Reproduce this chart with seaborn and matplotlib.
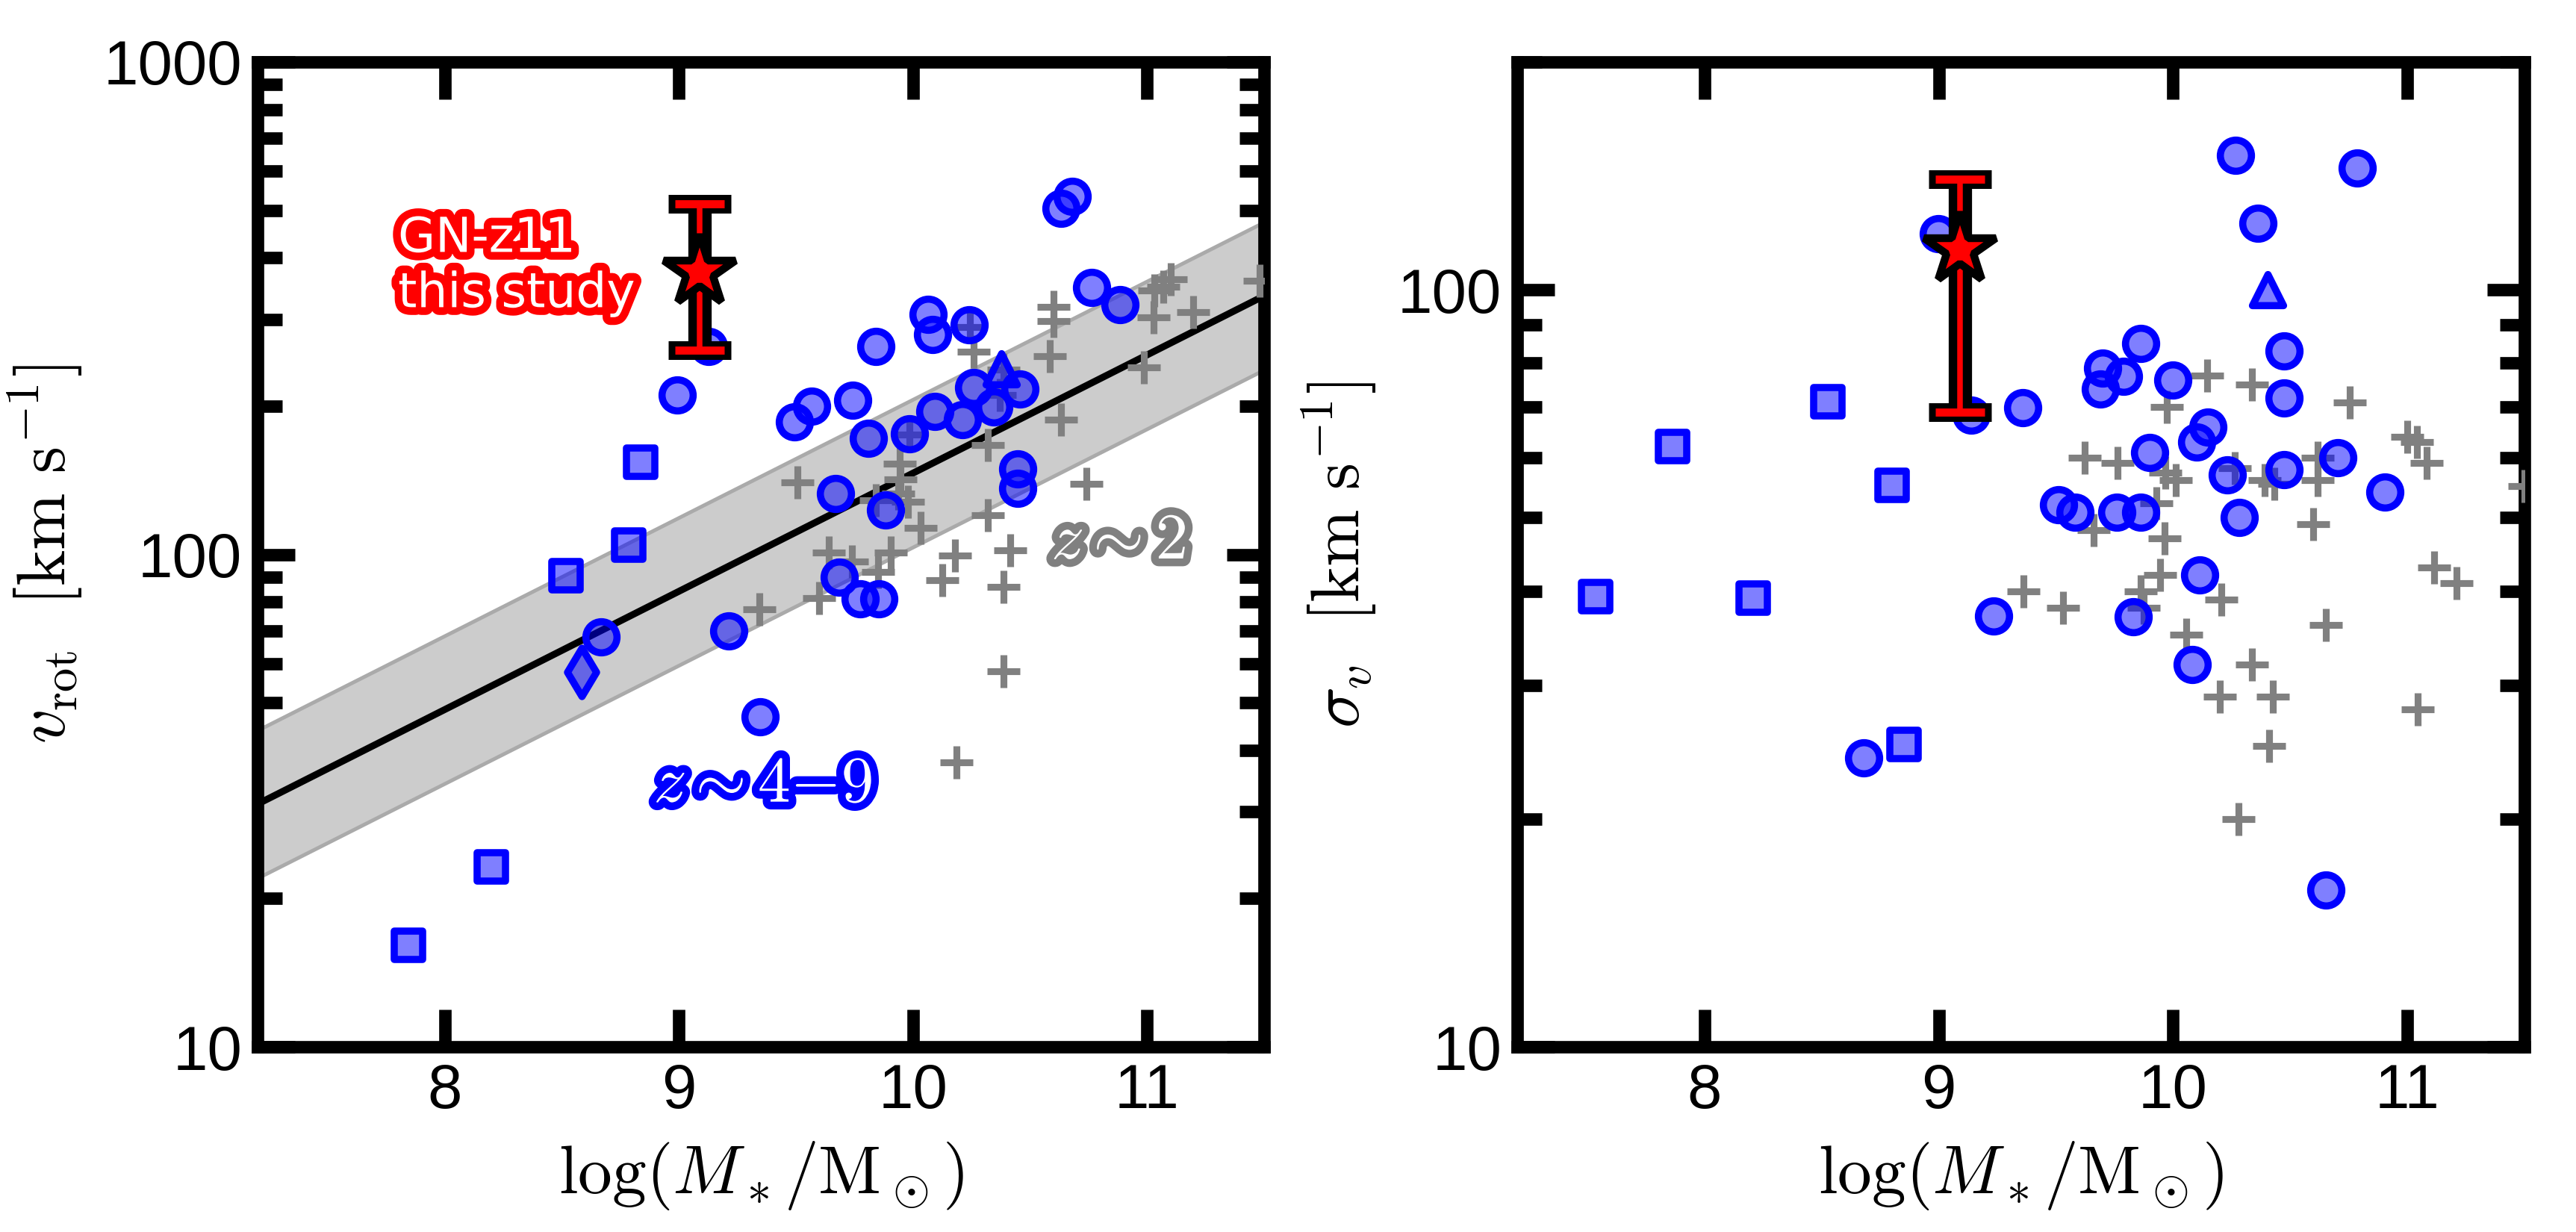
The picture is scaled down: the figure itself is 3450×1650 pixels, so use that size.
import numpy as np
import matplotlib
matplotlib.use("Agg")
import matplotlib.pyplot as plt
import matplotlib.patheffects as pe
from matplotlib.ticker import NullLocator, NullFormatter
import seaborn as sns

# === Data: left panel, rotation velocity ===
hiz_circ_logm = [8.667, 8.993, 9.128, 9.213, 9.348, 9.493, 9.567, 9.670, 9.684, 9.741,
                 9.773, 9.809, 9.840, 9.855, 9.883, 9.986, 10.064, 10.085, 10.092, 10.213,
                 10.241, 10.259, 10.344, 10.457, 10.447, 10.447, 10.631, 10.681, 10.762, 10.883]
hiz_circ_vrot = [68.1, 211, 264, 69.9, 46.8, 186, 200, 133, 89.9, 206,
                 81.3, 172, 264, 81.3, 123, 176, 307, 280, 195, 188,
                 293, 218, 199, 217, 149, 136, 504, 533, 349, 322]
hiz_sq_logm = [7.844, 8.20, 8.518, 8.787, 8.837]
hiz_sq_vrot = [16.1, 23.2, 90.6, 104.5, 154]
hiz_dia_logm = [8.585]
hiz_dia_vrot = [57.8]
hiz_tri_logm = [10.376]
hiz_tri_vrot = [238]

z2_logm_v = [10.60, 10.60, 10.258, 10.242, 10.584, 10.387, 10.371, 10.634, 10.321, 9.942,
             9.947, 9.937, 9.840, 9.979, 9.985, 10.033, 10.321, 10.741, 9.641, 9.738,
             9.904, 9.851, 10.178, 10.416, 10.124, 10.387, 9.599, 9.505, 9.344, 10.387,
             10.185, 11.197, 11.028, 10.988, 11.101, 11.069, 11.031, 11.48]
z2_vrot = [298, 318, 258, 290, 253, 237, 211, 188, 167, 153,
           142, 133, 129, 128, 175, 113, 120, 139, 101, 96.6,
           101, 92, 99.6, 102, 88.7, 85.8, 81.6, 140, 77.4, 58,
           37.8, 310, 303, 240, 362, 350, 344, 360]

# === Data: right panel, velocity dispersion ===
hiz_circ_logm_s = [9.359, 9.860, 9.700, 9.789, 9.689, 10.000, 10.472, 10.472, 10.150, 10.102,
                   9.901, 10.230, 10.472, 10.702, 10.903, 9.512, 9.582, 9.761, 9.860, 10.281,
                   10.112, 9.831, 10.081, 10.651, 8.678, 8.997, 9.138, 9.235, 10.266, 10.363,
                   10.785]
hiz_circ_sigma = [69.8, 84.9, 78.9, 76.9, 73.9, 76.0, 83.0, 72.0, 65.8, 62.9,
                  61.0, 56.9, 57.9, 60.0, 54.1, 52.0, 50.9, 50.9, 50.9, 50.0,
                  42.0, 37.0, 32.0, 16.1, 24.1, 118.7, 68.3, 37.1, 150.6, 122.5,
                  144.9]
hiz_sq_logm_s = [7.536, 7.862, 8.208, 8.526, 8.799, 8.851]
hiz_sq_sigma = [39.3, 62.1, 39.2, 71.1, 55.2, 25.1]
hiz_tri_logm_s = [10.405]
hiz_tri_sigma = [100]

z2_logm_s = [10.144, 10.338, 10.755, 9.974, 9.623, 9.763, 9.968, 10.011, 10.264, 10.392,
             10.431, 10.616, 10.616, 9.927, 9.662, 9.965, 10.599, 9.945, 9.362, 9.530,
             9.860, 9.875, 10.207, 10.651, 10.057, 10.335, 10.198, 10.427, 10.411, 10.278,
             11.0, 11.040, 11.081, 11.113, 11.209, 11.043, 11.5]
z2_sigma = [77.1, 75.0, 71.0, 70.0, 60.0, 59.0, 57.3, 56.1, 58.1, 56.1,
            55.4, 60.0, 56.1, 52.2, 48.1, 47.0, 49.0, 42.0, 40.0, 38.0,
            40.0, 38.0, 39.0, 36.1, 35.0, 32.0, 29.0, 29.0, 25.0, 20.0,
            64.0, 63.0, 59.0, 43.0, 41.0, 27.9, 55.1]

# === GN-z11 (this study) ===
gn_logm = 9.09
gn_vrot, gn_vrot_lo, gn_vrot_hi = 375, 260, 515
gn_sigma, gn_sigma_lo, gn_sigma_hi = 113, 69, 140

# z~2 Tully-Fisher fit: log v = a + b (logM - 10), scatter in dex
tf_a, tf_b, tf_scatter = 2.165, 0.24, 0.15

XLIM = (7.2, 11.5)

sns.set_style("ticks", {"axes.edgecolor": "black", "xtick.color": "black",
                        "ytick.color": "black", "text.color": "black",
                        "axes.labelcolor": "black"})
plt.rcParams["font.family"] = ["Liberation Sans", "DejaVu Sans"]
plt.rcParams["mathtext.fontset"] = "cm"

BLUE_FACE = (0, 0, 1, 0.5)


def draw_hiz(ax, x, y, marker, s):
    sns.scatterplot(x=x, y=y, marker=marker, s=s, facecolor=BLUE_FACE,
                    edgecolor="blue", linewidth=2.3, ax=ax, zorder=4)


def draw_z2(ax, x, y):
    sns.scatterplot(x=x, y=y, marker="+", s=110, color="gray",
                    linewidth=2.2, ax=ax, zorder=3)


def draw_gnz11(ax, y, lo, hi):
    yerr = [[y - lo], [hi - y]]
    ax.errorbar([gn_logm], [y], yerr=yerr, fmt="none", ecolor="black",
                elinewidth=7.5, capsize=10, capthick=6, zorder=6)
    ax.errorbar([gn_logm], [y], yerr=yerr, fmt="none", ecolor="red",
                elinewidth=1.8, capsize=8, capthick=2.6, zorder=7)
    ax.plot([gn_logm], [y], marker="*", ms=24, mfc="red", mec="black",
            mew=2.5, linestyle="none", zorder=8)


def style_axes(ax, yticks):
    ax.set_yscale("log")
    ax.set_xlim(*XLIM)
    ax.set_xticks([8, 9, 10, 11])
    ax.set_xticklabels(["8", "9", "10", "11"])
    ax.xaxis.set_minor_locator(NullLocator())
    ax.set_yticks(yticks)
    ax.set_yticklabels([str(t) for t in yticks])
    ax.yaxis.set_minor_formatter(NullFormatter())
    ax.tick_params(which="both", direction="in", top=True, right=True, width=4,
                   color="black", labelcolor="black")
    ax.tick_params(which="major", length=12, labelsize=20, pad=5)
    ax.tick_params(which="minor", length=8)
    for sp in ax.spines.values():
        sp.set_linewidth(4)
        sp.set_color("black")
    ax.set_xlabel(r"$\log(M_*/\mathrm{M}_\odot)$", fontsize=22, labelpad=6)


def outlined(ax, x, y, s, color, size, lw=4.5, **kw):
    ax.text(x, y, s, color="white", fontsize=size, zorder=9,
            path_effects=[pe.Stroke(linewidth=lw, foreground=color), pe.Normal()], **kw)


fig = plt.figure(figsize=(11.5, 5.5), dpi=300)
ax1 = fig.add_axes([0.100, 0.1503, 0.3907, 0.7994])
ax2 = fig.add_axes([0.589, 0.1503, 0.3910, 0.7994])

# --- left panel ---
xfit = np.linspace(XLIM[0], XLIM[1], 50)
yfit = tf_a + tf_b * (xfit - 10)
ax1.fill_between(xfit, 10 ** (yfit - tf_scatter), 10 ** (yfit + tf_scatter),
                 facecolor="#cccccc", edgecolor="#aaaaaa", linewidth=1.2, zorder=1)
ax1.plot(xfit, 10 ** yfit, color="black", lw=2.2, zorder=2)
draw_z2(ax1, z2_logm_v, z2_vrot)
draw_hiz(ax1, hiz_circ_logm, hiz_circ_vrot, "o", 100)
draw_hiz(ax1, hiz_sq_logm, hiz_sq_vrot, "s", 85)
draw_hiz(ax1, hiz_dia_logm, hiz_dia_vrot, "d", 121)
draw_hiz(ax1, hiz_tri_logm, hiz_tri_vrot, "^", 100)
draw_gnz11(ax1, gn_vrot, gn_vrot_lo, gn_vrot_hi)
style_axes(ax1, [10, 100, 1000])
ax1.set_ylim(10, 1000)
ax1.set_ylabel(r"$v_{\rm rot}\ \ [{\rm km\ s^{-1}}]$", fontsize=22, labelpad=6)

outlined(ax1, 7.8, 385, "GN-z11\nthis study", "red", 15.5, lw=5,
         family="DejaVu Sans", ha="left", va="center")
outlined(ax1, 9.36, 34, r"$z{\sim}4{-}9$", "blue", 21, lw=5, ha="center", va="center")
outlined(ax1, 10.88, 106, r"$z{\sim}2$", "gray", 21, lw=5, ha="center", va="center")

# --- right panel ---
draw_z2(ax2, z2_logm_s, z2_sigma)
draw_hiz(ax2, hiz_circ_logm_s, hiz_circ_sigma, "o", 100)
draw_hiz(ax2, hiz_sq_logm_s, hiz_sq_sigma, "s", 85)
draw_hiz(ax2, hiz_tri_logm_s, hiz_tri_sigma, "^", 100)
draw_gnz11(ax2, gn_sigma, gn_sigma_lo, gn_sigma_hi)
style_axes(ax2, [10, 100])
ax2.set_ylim(10, 200)
ax2.set_ylabel(r"$\sigma_v\ \ [{\rm km\ s^{-1}}]$", fontsize=22, labelpad=6)

fig.savefig("out.png", dpi=300)
plt.close(fig)
